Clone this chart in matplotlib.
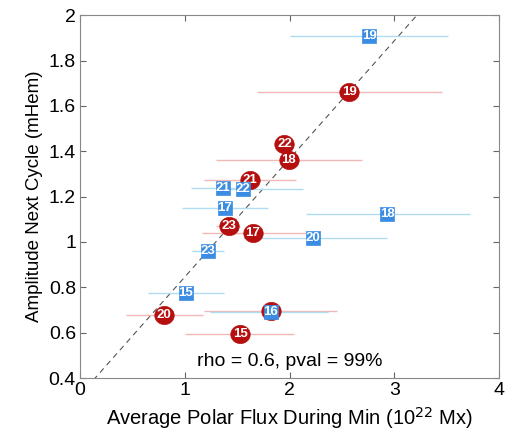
import numpy as np
import matplotlib
matplotlib.use('Agg')
import matplotlib.pyplot as plt
from matplotlib.path import Path

plt.rcParams['font.family'] = ['Liberation Sans', 'DejaVu Sans']

# red circles
red_cycle = [15, 16, 17, 18, 19, 20, 21, 22, 23]
red_x = [1.53, 1.82, 1.65, 1.99, 2.57, 0.80, 1.62, 1.95, 1.42]
red_y = [0.595, 0.694, 1.038, 1.360, 1.662, 0.676, 1.271, 1.430, 1.070]
red_lo = [1.00, 1.18, 1.16, 1.30, 1.69, 0.44, 1.18, 1.86, 1.30]
red_hi = [2.04, 2.45, 2.20, 2.69, 3.45, 1.17, 2.06, 2.04, 1.53]

# blue squares
blue_cycle = [15, 16, 17, 18, 19, 20, 21, 22, 23]
blue_x = [1.01, 1.82, 1.38, 2.93, 2.76, 2.22, 1.36, 1.55, 1.22]
blue_y = [0.775, 0.690, 1.151, 1.122, 1.909, 1.017, 1.236, 1.233, 0.960]
blue_lo = [0.65, 1.24, 0.97, 2.16, 2.00, 1.55, 1.06, 1.30, 1.07]
blue_hi = [1.37, 2.37, 1.79, 3.72, 3.51, 2.93, 1.55, 2.13, 1.37]

fit_slope, fit_icpt = 0.521, 0.325

RED = '#b5100f'
BLUE = '#3b8de3'

# slightly wide circle, the original picture is stretched sideways
th = np.linspace(0, 2 * np.pi, 60)
oval = Path(np.column_stack([1.07 * np.cos(th), np.sin(th)]))
box = Path([(-1.05, -1), (1.05, -1), (1.05, 1), (-1.05, 1), (-1.05, -1)])

fig = plt.figure(figsize=(5.1, 4.33), dpi=100)
ax = fig.add_axes([0.157, 0.127, 0.822, 0.838])

xx = np.array([0, 4])
ax.plot(xx, fit_icpt + fit_slope * xx, '--', color='#555555', lw=0.8, dashes=(5, 4), zorder=1)

rx, ry = np.array(red_x), np.array(red_y)
ax.errorbar(rx, ry, xerr=[rx - np.array(red_lo), np.array(red_hi) - rx],
            fmt='none', ecolor='#f2b8b8', elinewidth=1, capsize=0, zorder=2)
bx, by = np.array(blue_x), np.array(blue_y)
ax.errorbar(bx, by, xerr=[bx - np.array(blue_lo), np.array(blue_hi) - bx],
            fmt='none', ecolor='#b0dcf2', elinewidth=1, capsize=0, zorder=2)

for c, x, y in zip(red_cycle, red_x, red_y):
    ax.plot(x, y, marker=oval, ms=14, mfc=RED, mec=RED, mew=0.5, zorder=3)
    ax.text(x, y, str(c), color='white', fontsize=9.5, fontweight='bold',
            ha='center', va='center', zorder=4)
for c, x, y in zip(blue_cycle, blue_x, blue_y):
    ax.plot(x, y, marker=box, ms=10, mfc=BLUE, mec=BLUE, mew=0.5, zorder=5)
    ax.text(x, y, str(c), color='white', fontsize=9.5, fontweight='bold',
            ha='center', va='center', zorder=6)

ax.text(2.0, 0.475, 'rho = 0.6, pval = 99%', fontsize=14, ha='center', va='center')

ax.set_xlim(0, 4)
ax.set_ylim(0.4, 2)
ax.set_xticks([0, 1, 2, 3, 4])
ax.set_yticks(np.arange(0.4, 2.01, 0.2))
ax.set_yticklabels(['0.4', '0.6', '0.8', '1', '1.2', '1.4', '1.6', '1.8', '2'])
ax.tick_params(direction='in', top=True, right=True, labelsize=14, length=4,
               color='#666666', pad=3)
for s in ax.spines.values():
    s.set_color('#888888')
ax.set_xlabel('Average Polar Flux During Min (10$^{22}$ Mx)', fontsize=14.5, labelpad=4)
ax.set_ylabel('Amplitude Next Cycle (mHem)', fontsize=13.5, labelpad=4)

fig.savefig('out.png', dpi=100)
